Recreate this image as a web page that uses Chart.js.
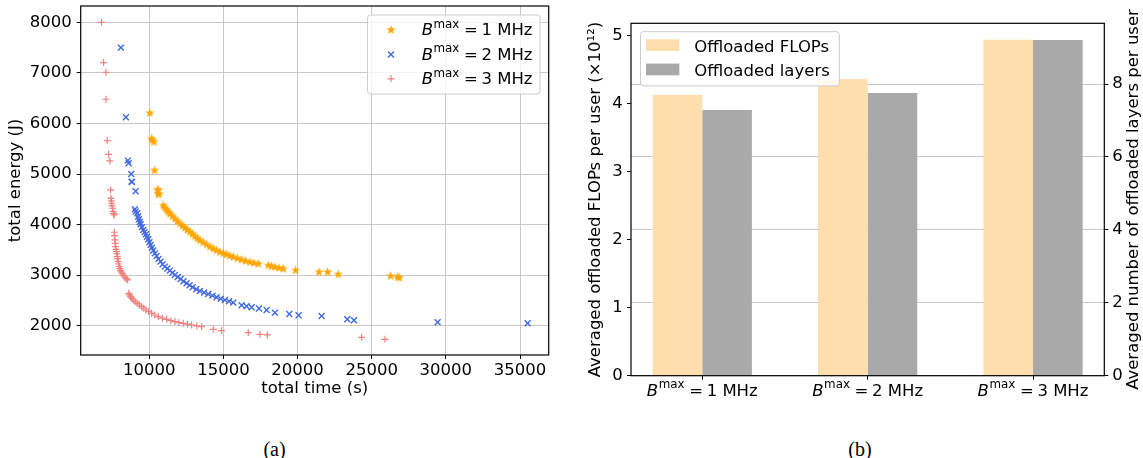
<!DOCTYPE html>
<html>
<head>
<meta charset="utf-8">
<script src="https://cdn.jsdelivr.net/npm/chart.js@4.4.1/dist/chart.umd.min.js"></script>
<style>
  html, body { margin: 0; padding: 0; background: #fff; }
  #page { position: relative; width: 1143px; height: 458px; overflow: hidden; }
  .box { position: absolute; top: 0; height: 420px; }
  #boxA { left: 0; width: 560px; }
  #boxB { left: 560px; width: 583px; }
  .cap { position: absolute; top: 437px; width: 60px; text-align: center;
         font-family: 'Liberation Serif', 'Times New Roman', serif; font-size: 20px; line-height: 24px; }
</style>
</head>
<body>
<div id="page">
  <div class="box" id="boxA"><canvas id="energyTimeChart"></canvas></div>
  <div class="box" id="boxB"><canvas id="offloadChart"></canvas></div>
  <div class="cap" style="left:244.5px">(a)</div>
  <div class="cap" style="left:830px">(b)</div>
</div>
<script>
// (a) total time (s) vs total energy (J), one pair of arrays per bandwidth
const time1MHz = [10045, 10157, 10200, 10315, 10360, 10562, 10607, 10607, 10652, 10944, 11050, 11169, 11280, 11394, 11560, 11731, 11900, 12068, 12240, 12405, 12570, 12743, 12910, 13080, 13250, 13417, 13640, 13867, 14090, 14316, 14540, 14766, 15000, 15215, 15440, 15665, 15950, 16227, 16500, 16789, 17060, 17351, 18025, 18250, 18475, 18750, 19037, 19869, 21442, 22027, 22746, 26275, 26747, 26860];
const energy1MHz = [6214, 5707, 5680, 5641, 5081, 4698, 4685, 4619, 4606, 4388, 4340, 4303, 4260, 4224, 4175, 4125, 4075, 4026, 3985, 3947, 3905, 3862, 3820, 3776, 3735, 3697, 3655, 3611, 3570, 3532, 3498, 3466, 3440, 3420, 3392, 3367, 3340, 3314, 3290, 3268, 3250, 3235, 3202, 3185, 3169, 3150, 3136, 3103, 3070, 3070, 3024, 2991, 2971, 2958];

const time2MHz = [8089, 8426, 8561, 8606, 8786, 8809, 8831, 9078, 9033, 9080, 9191, 9250, 9303, 9360, 9416, 9500, 9596, 9680, 9775, 9850, 9933, 10010, 10090, 10180, 10270, 10380, 10495, 10620, 10764, 10900, 11057, 11220, 11394, 11560, 11731, 11920, 12113, 12310, 12518, 12720, 12922, 13170, 13417, 13700, 13979, 14260, 14541, 14820, 15103, 15380, 15665, 16227, 16560, 16901, 17400, 17913, 18475, 19442, 20071, 21622, 23353, 23803, 29445, 35515];
const energy2MHz = [7499, 6122, 5265, 5212, 5001, 4849, 4843, 4659, 4303, 4260, 4224, 4160, 4106, 4050, 4006, 3950, 3894, 3850, 3809, 3760, 3710, 3650, 3598, 3540, 3486, 3430, 3380, 3320, 3268, 3215, 3169, 3130, 3090, 3045, 3004, 2965, 2925, 2880, 2839, 2800, 2760, 2722, 2688, 2658, 2628, 2595, 2562, 2535, 2509, 2483, 2457, 2404, 2385, 2364, 2340, 2311, 2259, 2232, 2206, 2193, 2127, 2107, 2068, 2048];

const time3MHz = [6785, 6920, 7078, 7078, 7168, 7257, 7347, 7392, 7415, 7440, 7460, 7500, 7527, 7560, 7600, 7640, 7640, 7660, 7685, 7700, 7730, 7760, 7797, 7820, 7842, 7870, 7909, 7940, 7977, 8020, 8067, 8120, 8202, 8280, 8359, 8450, 8539, 8629, 8660, 8741, 8830, 8921, 9050, 9191, 9330, 9483, 9630, 9775, 9950, 10157, 10380, 10607, 10880, 11169, 11450, 11731, 12000, 12293, 12580, 12855, 13200, 13529, 14316, 14878, 16677, 17463, 17958, 24320, 25893];
const energy3MHz = [8000, 7203, 7012, 6478, 5660, 5390, 5259, 4685, 4520, 4470, 4422, 4370, 4323, 4260, 4220, 4191, 3848, 3780, 3697, 3630, 3565, 3510, 3466, 3420, 3367, 3320, 3268, 3220, 3169, 3130, 3090, 3060, 3024, 2990, 2958, 2930, 2905, 2641, 2610, 2575, 2540, 2509, 2475, 2443, 2410, 2377, 2345, 2311, 2280, 2246, 2212, 2180, 2150, 2127, 2100, 2081, 2062, 2048, 2030, 2015, 1998, 1982, 1929, 1903, 1863, 1830, 1817, 1771, 1731];

const timeTicks = [10000, 15000, 20000, 25000, 30000, 35000];
const energyTicks = [2000, 3000, 4000, 5000, 6000, 7000, 8000];

// (b) averages per user for each B^max
const bandwidths = ['1', '2', '3'];
const offloadedFlops = [4.13, 4.36, 4.94];   // x10^12
const offloadedLayers = [7.29, 7.75, 9.21];
const flopsTicks = [0, 1, 2, 3, 4, 5];
const layersTicks = [0, 2, 4, 6, 8];

const colors = {
    orange: '#FFA500',
    blue: '#4169E1',
    red: '#F08080',
    flops: '#FFDEAD',
    layers: '#A9A9A9',
    grid: '#c8c8c8'
};
const FONT = 'DejaVu Sans';
const FS = 16.5;
Chart.defaults.font.family = FONT;
Chart.defaults.font.size = FS;
Chart.defaults.color = '#000';
Chart.defaults.animation = false;

const toPoints = (xs, ys) => xs.map((x, i) => ({ x: x, y: ys[i] }));
const fixedTicks = values => scale => { scale.ticks = values.map(v => ({ value: v })); };
// pin an axis box to a given size and drop the label overhang padding
const fitWidth = w => s => { s.width = w; s.paddingTop = 0; s.paddingBottom = 0; };
const fitHeight = h => s => { s.height = h; s.paddingLeft = 0; s.paddingRight = 0; };

const starImage = (() => {
    const c = document.createElement('canvas');
    c.width = 11;
    c.height = 11;
    const g = c.getContext('2d');
    g.fillStyle = colors.orange;
    g.beginPath();
    for (let k = 0; k < 10; k++) {
        const r = k % 2 === 0 ? 5 : 2;
        const a = -Math.PI / 2 + k * Math.PI / 5;
        g.lineTo(5.5 + r * Math.cos(a), 6 + r * Math.sin(a));
    }
    g.closePath();
    g.fill();
    return c;
})();

// B^max = n MHz, drawn piece by piece so the superscript looks like mathtext
function drawBLabel(ctx, value, x, baseline, size, align) {
    const parts = [
        { text: 'B', font: `italic ${size}px "${FONT}"`, dy: 0, gap: 0.5 },
        { text: 'max', font: `${size * 0.72}px "${FONT}"`, dy: -size * 0.45, gap: size * 0.28 },
        { text: '=', font: `${size}px "${FONT}"`, dy: 0, gap: size * 0.22 },
        { text: value + ' MHz', font: `${size}px "${FONT}"`, dy: 0, gap: 0 }
    ];
    ctx.save();
    ctx.fillStyle = '#000';
    ctx.textAlign = 'left';
    ctx.textBaseline = 'alphabetic';
    let total = 0;
    parts.forEach(p => {
        ctx.font = p.font;
        p.w = ctx.measureText(p.text).width;
        total += p.w + p.gap;
    });
    let cx = align === 'center' ? x - total / 2 : x;
    parts.forEach(p => {
        ctx.font = p.font;
        ctx.fillText(p.text, cx, baseline + p.dy);
        cx += p.w + p.gap;
    });
    ctx.restore();
}

function drawFrame(ctx, area) {
    ctx.save();
    ctx.strokeStyle = '#000';
    ctx.lineWidth = 1.2;
    ctx.strokeRect(area.left, area.top, area.right - area.left, area.bottom - area.top);
    ctx.restore();
}

function legendBox(ctx, x, y, w, h) {
    ctx.beginPath();
    ctx.roundRect(x, y, w, h, 3);
    ctx.fillStyle = 'rgba(255,255,255,0.8)';
    ctx.fill();
    ctx.strokeStyle = '#cccccc';
    ctx.lineWidth = 1;
    ctx.stroke();
}

const energyTimeDecor = {
    id: 'energyTimeDecor',
    afterDraw(chart) {
        const ctx = chart.ctx;
        drawFrame(ctx, chart.chartArea);
        ctx.save();
        legendBox(ctx, 367.5, 15, 172.5, 79);
        const mx = 391;
        const rows = [30, 54.4, 78.8];
        ctx.drawImage(starImage, mx - 5.5, rows[0] - 6);
        ctx.lineWidth = 1.4;
        ctx.strokeStyle = colors.blue;
        ctx.beginPath();
        ctx.moveTo(mx - 3, rows[1] - 3); ctx.lineTo(mx + 3, rows[1] + 3);
        ctx.moveTo(mx - 3, rows[1] + 3); ctx.lineTo(mx + 3, rows[1] - 3);
        ctx.stroke();
        ctx.lineWidth = 1.2;
        ctx.strokeStyle = colors.red;
        ctx.beginPath();
        ctx.moveTo(mx - 3.5, rows[2]); ctx.lineTo(mx + 3.5, rows[2]);
        ctx.moveTo(mx, rows[2] - 3.5); ctx.lineTo(mx, rows[2] + 3.5);
        ctx.stroke();
        ctx.restore();
        rows.forEach((ry, i) => drawBLabel(ctx, bandwidths[i], 421.7, ry + 5.3, FS, 'left'));
    }
};

const offloadDecor = {
    id: 'offloadDecor',
    afterDraw(chart) {
        const ctx = chart.ctx;
        const area = chart.chartArea;
        drawFrame(ctx, area);
        const xs = chart.scales.x;
        bandwidths.forEach((b, i) => drawBLabel(ctx, b, xs.getPixelForValue(i), 395.5, FS, 'center'));
        ctx.save();
        legendBox(ctx, 80.5, 31.7, 198.8, 54.3);
        ctx.fillStyle = colors.flops;
        ctx.fillRect(86, 39.3, 33.3, 11.7);
        ctx.fillStyle = colors.layers;
        ctx.fillRect(86, 63.6, 33.3, 11.7);
        ctx.fillStyle = '#000';
        ctx.font = `${FS}px "${FONT}"`;
        ctx.textAlign = 'left';
        ctx.textBaseline = 'alphabetic';
        ctx.fillText('Offloaded FLOPs', 134.3, 51.6);
        ctx.fillText('Offloaded layers', 134.3, 76);
        // right axis title reads bottom-to-top like matplotlib's twin ylabel
        ctx.translate(578, (area.top + area.bottom) / 2);
        ctx.rotate(-Math.PI / 2);
        ctx.textAlign = 'center';
        ctx.fillText('Averaged number of offloaded layers per user', 0, 0);
        ctx.restore();
    }
};

const tickMarks = { drawTicks: true, tickLength: 4, tickColor: '#000', tickWidth: 1 };

new Chart(document.getElementById('energyTimeChart'), {
    type: 'scatter',
    data: {
        datasets: [
            {
                label: 'B^max = 1 MHz',
                data: toPoints(time1MHz, energy1MHz),
                pointStyle: starImage,
                backgroundColor: colors.orange,
                borderColor: colors.orange
            },
            {
                label: 'B^max = 2 MHz',
                data: toPoints(time2MHz, energy2MHz),
                pointStyle: 'crossRot',
                pointRadius: 4.2,
                borderWidth: 1.4,
                borderColor: colors.blue,
                backgroundColor: colors.blue
            },
            {
                label: 'B^max = 3 MHz',
                data: toPoints(time3MHz, energy3MHz),
                pointStyle: 'cross',
                pointRadius: 3.5,
                borderWidth: 1.2,
                borderColor: colors.red,
                backgroundColor: colors.red
            }
        ]
    },
    options: {
        responsive: true,
        maintainAspectRatio: false,
        layout: { padding: { top: 6, right: 11.3, left: 0, bottom: 0 } },
        scales: {
            x: {
                type: 'linear',
                min: 5377,
                max: 36934,
                afterBuildTicks: fixedTicks(timeTicks),
                ticks: { padding: 2, maxRotation: 0, autoSkip: false, callback: v => String(v) },
                grid: Object.assign({ color: colors.grid, lineWidth: 1 }, tickMarks),
                border: { display: false },
                title: { display: true, text: 'total time (s)', padding: { top: 0, bottom: 21 } },
                afterFit: fitHeight(65)
            },
            y: {
                min: 1421,
                max: 8322,
                afterBuildTicks: fixedTicks(energyTicks),
                ticks: { padding: 5, autoSkip: false, callback: v => String(v) },
                grid: Object.assign({ color: colors.grid, lineWidth: 1 }, tickMarks),
                border: { display: false },
                title: { display: true, text: 'total energy (J)', padding: { top: 5.5, bottom: 0 } },
                afterFit: fitWidth(80.7)
            }
        },
        plugins: {
            legend: { display: false },
            tooltip: { enabled: false }
        }
    },
    plugins: [energyTimeDecor]
});

const bandIndex = bandwidths.map((b, i) => i);

new Chart(document.getElementById('offloadChart'), {
    type: 'bar',
    data: {
        datasets: [
            {
                label: 'Offloaded FLOPs',
                data: toPoints(bandIndex, offloadedFlops),
                backgroundColor: colors.flops,
                yAxisID: 'y',
                categoryPercentage: 0.6,
                barPercentage: 1.0
            },
            {
                label: 'Offloaded layers',
                data: toPoints(bandIndex, offloadedLayers),
                backgroundColor: colors.layers,
                yAxisID: 'y1',
                categoryPercentage: 0.6,
                barPercentage: 1.0
            }
        ]
    },
    options: {
        responsive: true,
        maintainAspectRatio: false,
        layout: { padding: { top: 23.3, right: 0, left: 0, bottom: 0 } },
        scales: {
            x: {
                type: 'linear',
                offset: false,
                min: -0.431,
                max: 2.431,
                afterBuildTicks: fixedTicks(bandIndex),
                ticks: { autoSkip: false, callback: () => '' },
                grid: Object.assign({ drawOnChartArea: false, offset: false }, tickMarks),
                border: { display: false },
                afterFit: fitHeight(44.3)
            },
            y: {
                position: 'left',
                min: 0,
                max: 5.182,
                afterBuildTicks: fixedTicks(flopsTicks),
                ticks: { padding: 4.3 },
                grid: Object.assign({ drawOnChartArea: false }, tickMarks),
                border: { display: false },
                title: { display: true, text: 'Averaged offloaded FLOPs per user (×10¹²)', padding: { top: 26, bottom: 0 } },
                afterFit: fitWidth(71)
            },
            y1: {
                position: 'right',
                min: 0,
                max: 9.665,
                z: 1,
                afterBuildTicks: fixedTicks(layersTicks),
                ticks: { padding: 4 },
                grid: Object.assign({ color: colors.grid, lineWidth: 1 }, tickMarks),
                border: { display: false },
                afterFit: fitWidth(38.7)
            }
        },
        plugins: {
            legend: { display: false },
            tooltip: { enabled: false }
        }
    },
    plugins: [offloadDecor]
});
</script>
</body>
</html>
